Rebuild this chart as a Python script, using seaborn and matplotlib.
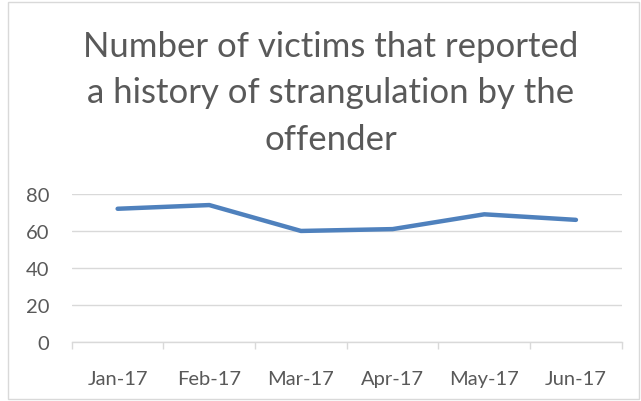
import matplotlib
matplotlib.use('Agg')
import matplotlib.pyplot as plt
import seaborn as sns
import pandas as pd

months = ['Jan-17', 'Feb-17', 'Mar-17', 'Apr-17', 'May-17', 'Jun-17']
victims = [72, 74, 60, 61, 69, 66]
y_ticks = [0, 20, 40, 60, 80]

df = pd.DataFrame({'month': months, 'victims': victims})

sns.set_theme(style='white')
plt.rcParams['font.family'] = ['Lato', 'DejaVu Sans']

fig = plt.figure(figsize=(6.41, 4.02), dpi=100)
ax = fig.add_axes([0.112, 0.147, 0.858, 0.368])

sns.lineplot(data=df, x='month', y='victims', ax=ax, color='#4F81BD',
             linewidth=3.2, solid_capstyle='round', sort=False)

ax.set_xlim(-0.5, len(months) - 0.5)
ax.set_ylim(0, 80)
ax.set_yticks(y_ticks)
ax.yaxis.grid(True, color='#D9D9D9', linewidth=1)
ax.set_axisbelow(True)
for s in ['top', 'right', 'left']:
    ax.spines[s].set_visible(False)
ax.spines['bottom'].set_color('#D9D9D9')
ax.spines['bottom'].set_linewidth(1)

ax.set_xticks(range(len(months)))
ax.set_xticklabels(months)
ax.set_xticks([i - 0.5 for i in range(len(months) + 1)], minor=True)
ax.tick_params(axis='x', which='major', length=0, pad=20, labelsize=14.5, labelcolor='#595959')
ax.tick_params(axis='x', which='minor', length=5, color='#D9D9D9', width=1, bottom=True)
ax.tick_params(axis='y', length=0, pad=16, labelsize=14.5, labelcolor='#595959')
ax.set_xlabel('')
ax.set_ylabel('')

fig.text(0.516, 0.768, 'Number of victims that reported\na history of strangulation by the\noffender',
         ha='center', va='center', fontsize=25, color='#595959', linespacing=1.55)

fig.patches.append(plt.Rectangle((0.012, 0.005), 0.985, 0.988, transform=fig.transFigure,
                                 fill=False, edgecolor='#D9D9D9', linewidth=1))

fig.savefig('out.png', dpi=100)
